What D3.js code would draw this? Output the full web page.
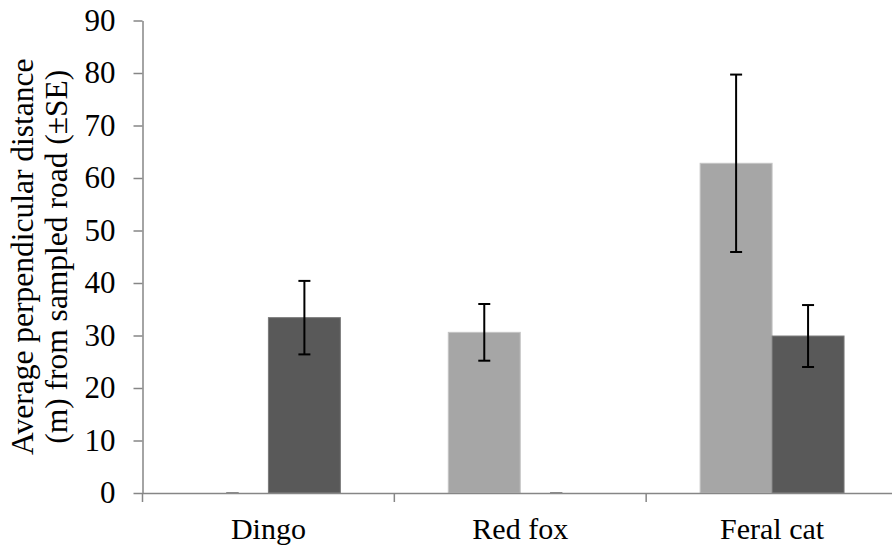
<!DOCTYPE html>
<html>
<head>
<meta charset="utf-8">
<script src="https://cdn.jsdelivr.net/npm/d3@7"></script>
<style>
  body { margin: 0; background: #fff; }
</style>
</head>
<body>
<svg id="chart"></svg>
<script>
var width = 892;
var height = 550;
var margin = { top : 20.5, bottom : 57, left : 142.5, right : -6 };
var font = "'Liberation Serif', 'Times New Roman', serif";

// data
var categories = ["Dingo", "Red fox", "Feral cat"];
var series = ["Series 1", "Series 2"];
var means1 = [0, 30.6, 62.8];   // light bars
var means2 = [33.4, 0, 29.9];   // dark bars
var se1 = [0, 5.4, 16.9];
var se2 = [7.0, 0, 5.9];
var yTicks = [0, 10, 20, 30, 40, 50, 60, 70, 80, 90];

var data = [];
categories.forEach(function(c, i) {
  data.push({ cat: c, s: series[0], v: means1[i], e: se1[i] });
  data.push({ cat: c, s: series[1], v: means2[i], e: se2[i] });
});

var colors = { "Series 1": "#a6a6a6", "Series 2": "#595959" };
var borders = { "Series 1": "#c4c4c4", "Series 2": "#7a7a7a" };

var svg = d3.select('#chart')
  .attr('width', width)
  .attr('height', height);

//scales
var x = d3.scaleBand()
  .domain(categories)
  .range([margin.left, width - margin.right])
  .padding(0);

var x1 = d3.scaleBand()
  .domain(series)
  .range([0, x.bandwidth()])
  .paddingInner(0)
  .paddingOuter(0.75); // excel gap width 75%

var y = d3.scaleLinear()
  .domain([0, 90])
  .range([height - margin.bottom, margin.top]);

// bars
svg.append("g").selectAll("rect")
  .data(data.filter(d => d.v > 0))
  .join("rect")
    .attr("x", d => x(d.cat) + x1(d.s))
    .attr("y", d => y(d.v))
    .attr("width", x1.bandwidth())
    .attr("height", d => y(0) - y(d.v))
    .attr("fill", d => colors[d.s])
    .attr("stroke", d => borders[d.s])
    .attr("stroke-width", 1);

// y axis
var yAxis = svg.append("g")
  .attr("transform", "translate(" + margin.left + ",0)")
  .call(d3.axisLeft(y).tickValues(yTicks).tickSize(9).tickSizeOuter(0).tickPadding(18));
yAxis.attr("font-family", font).attr("font-size", 31);
yAxis.select(".domain").attr("stroke", "#868686").attr("stroke-width", 1.5);
yAxis.selectAll(".tick line").attr("stroke", "#868686").attr("stroke-width", 1.5);
yAxis.selectAll(".tick text").attr("fill", "#000");

// x axis: labels centred, ticks between categories
var xAxis = svg.append("g")
  .attr("transform", "translate(0," + y(0) + ")")
  .call(d3.axisBottom(x).tickSize(0).tickSizeOuter(0).tickPadding(24.7));
xAxis.attr("font-family", font).attr("font-size", 30);
xAxis.select(".domain").attr("stroke", "#868686").attr("stroke-width", 1.5);
xAxis.selectAll(".tick text").attr("fill", "#000");

xAxis.selectAll("line.sep")
  .data(categories)
  .join("line")
    .attr("class", "sep")
    .attr("x1", d => x(d)).attr("x2", d => x(d))
    .attr("y1", 0).attr("y2", 9)
    .attr("stroke", "#868686")
    .attr("stroke-width", 1.5);

// error bars
var eb = svg.append("g").selectAll("g")
  .data(data)
  .join("g")
    .attr("transform", d => "translate(" + (x(d.cat) + x1(d.s) + x1.bandwidth() / 2) + ",0)")
    .attr("stroke", d => d.v > 0 ? "#000" : "#8a8a8a")
    .attr("stroke-width", 2);
eb.append("line")
  .attr("y1", d => y(d.v - d.e)).attr("y2", d => y(d.v + d.e));
eb.append("line")
  .attr("x1", -6).attr("x2", 6)
  .attr("y1", d => y(d.v + d.e)).attr("y2", d => y(d.v + d.e));
eb.append("line")
  .attr("x1", -6).attr("x2", 6)
  .attr("y1", d => y(d.v - d.e)).attr("y2", d => y(d.v - d.e));

// y axis title, two lines
var cy = (y(0) + y(90)) / 2;
svg.append("text")
  .attr("transform", "translate(33," + cy + ") rotate(-90)")
  .attr("text-anchor", "middle")
  .attr("font-family", font)
  .attr("font-size", 31.5)
  .text("Average perpendicular distance");
svg.append("text")
  .attr("transform", "translate(67," + cy + ") rotate(-90)")
  .attr("text-anchor", "middle")
  .attr("font-family", font)
  .attr("font-size", 31.5)
  .text("(m) from sampled road (\u00B1SE)");
</script>
</body>
</html>
